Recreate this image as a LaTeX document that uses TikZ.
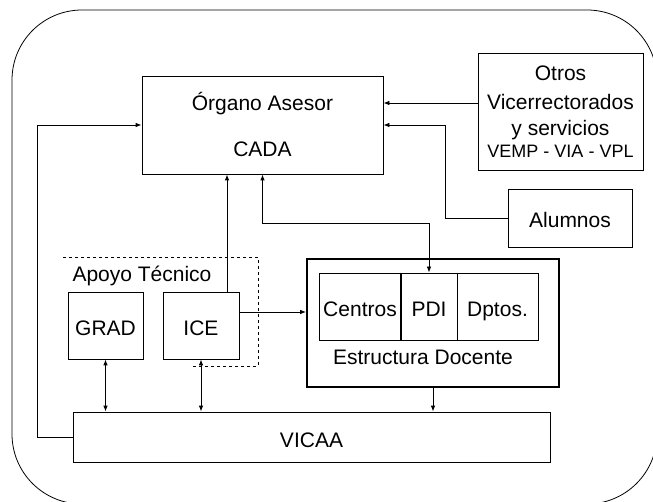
\documentclass[tikz,border=0pt]{standalone}
\usepackage{fontspec}
\setmainfont{Liberation Sans}
\usetikzlibrary{arrows.meta}

\begin{document}
\begin{tikzpicture}[x=1pt, y=-1pt,
    lbl/.style={font=\fontsize{21}{26}\selectfont, inner sep=0pt},
    box/.style={lbl, draw, line width=0.8pt, align=center},
    cell/.style={box, text height=20pt, text depth=0pt},
    tip/.style={-{Latex[length=6pt,width=4.5pt]}, line width=0.8pt},
    tips/.style={{Latex[length=6pt,width=4.5pt]}-{Latex[length=6pt,width=4.5pt]}, line width=0.8pt}]
    \useasboundingbox (0,0) rectangle (653,502);
    \clip (0,0) rectangle (653,502);

    % Outer frame
    \draw[line width=0.8pt, rounded corners=70pt] (12,10) rectangle (657,504);

    % Organo Asesor and the boxes that feed it
    \node[box, minimum width=241pt, minimum height=98pt] (cada) at (262.5,125) {Órgano Asesor\\[20pt]CADA};
    \node[box, minimum width=165pt, minimum height=117pt] (otros) at (560.5,111.5)
        {Otros\\[3pt]Vicerrectorados\\y servicios\\[-4pt]{\fontsize{18}{22}\selectfont VEMP - VIA - VPL}};
    \node[cell, minimum width=124pt, minimum height=58pt] (alumnos) at (570,218) {Alumnos};
    \node[cell, minimum width=477pt, minimum height=50pt] (vicaa) at (311.5,437) {VICAA};

    % Apoyo Tecnico
    \draw[dashed, line width=0.8pt] (63,257) -- (258,257) -- (258,366) -- (193,366);
    \node[lbl, anchor=base] (apoyo) at (142,282) {Apoyo Técnico};
    \node[cell, minimum width=75pt, minimum height=67pt] (grad) at (105.5,325.5) {GRAD};
    \node[cell, minimum width=76pt, minimum height=67pt] (ice) at (201,325.5) {ICE};

    % Estructura Docente
    \node[box, line width=1.8pt, minimum width=252pt, minimum height=128pt] (estr) at (433,323) {};
    \node[cell, minimum width=82pt, minimum height=67pt] (centros) at (360,306.5) {Centros};
    \node[cell, minimum width=56pt, minimum height=67pt] (pdi) at (429,306.5) {PDI};
    \node[cell, minimum width=81pt, minimum height=67pt] (dptos) at (497.5,306.5) {Dptos.};
    \draw[line width=1.5pt] (pdi.north west) -- (pdi.south west);
    \draw[line width=1.5pt] (pdi.north east) -- (pdi.south east);
    \node[lbl, anchor=base] (docente) at (423,365) {Estructura Docente};

    % Connectors
    \draw[tip] ([yshift=8.5pt]otros.west) -- ([yshift=8.5pt]otros.west -| cada.east);
    \draw[tip] (alumnos.west) -- ++(-62,0) |- (cada.east);
    \draw[tip] (vicaa.west) -- ++(-35,0) |- (cada.west);
    \draw[tip] ([xshift=26pt]ice.north) -- ([xshift=26pt]ice.north |- cada.south);
    \draw[tips] (cada.south) -- ++(0,49) -| (pdi.north);
    \draw[tip] ([yshift=13.5pt]ice.east) -- ([yshift=13.5pt]ice.east -| estr.west);
    \draw[tips] (grad.south) -- (grad.south |- vicaa.north);
    \draw[tips] (ice.south) -- (ice.south |- vicaa.north);
    \draw[tip] (estr.south) -- (estr.south |- vicaa.north);
\end{tikzpicture}
\end{document}
